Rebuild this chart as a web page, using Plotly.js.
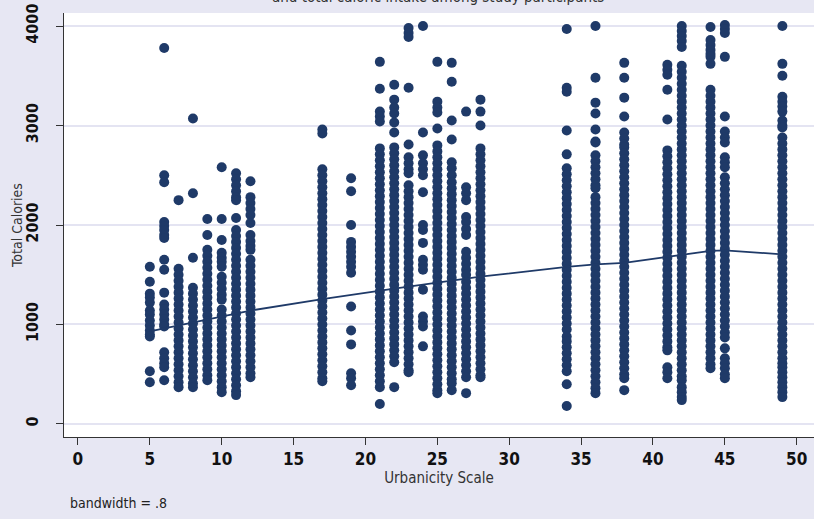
<!DOCTYPE html>
<html>
<head>
<meta charset="utf-8">
<script src="https://cdn.plot.ly/plotly-3.0.1.min.js"></script>
<style>html,body{margin:0;padding:0;background:#e7e7f3;}#chart{width:814px;height:519px;}</style>
</head>
<body>
<div id="chart"></div>
<script>
// Urbanicity scale values (x categories)
var urbanX = [5,6,7,8,9,10,11,12,17,19,21,22,23,24,25,26,27,28,34,36,38,41,42,44,45,49];

// Total calories observed at each urbanicity value
var cal5  = [1580,1430,1310,1270,1220,1140,1100,1040,990,940,900,880,530,420];
var cal6  = [3780,2500,2430,2030,1990,1950,1900,1870,1650,1550,1320,1200,1150,1100,1050,1000,980,720,660,610,570,440];
var cal7  = [2250,1560,1500,1440,1380,1320,1260,1200,1140,1080,1020,960,900,840,780,720,660,600,540,480,420,370];
var cal8  = [3070,2320,1670,1370,1310,1250,1190,1130,1070,1010,950,890,830,770,710,650,590,530,470,410,370];
var cal9  = [2060,1900,1750,1690,1630,1570,1510,1450,1390,1330,1270,1210,1150,1090,1030,970,910,850,790,730,670,610,550,490,440];
var cal10 = [2580,2060,1850,1720,1670,1630,1580,1480,1420,1360,1300,1250,1150,1090,1030,970,910,850,790,730,670,610,550,490,430,370,320];
var cal11 = [2520,2460,2400,2340,2280,2250,2070,1950,1890,1830,1770,1710,1650,1590,1530,1470,1410,1350,1290,1230,1170,1110,1050,990,930,870,810,750,690,630,570,510,450,390,330,290];
var cal12 = [2440,2280,2220,2160,2100,2020,1900,1840,1790,1750,1650,1590,1530,1470,1410,1350,1290,1230,1170,1110,1050,990,930,870,810,750,690,630,570,510,470];
var cal17 = [2960,2920,2560,2500,2440,2380,2320,2260,2200,2140,2080,2020,1960,1900,1840,1780,1720,1660,1600,1540,1480,1420,1360,1300,1240,1180,1120,1060,1000,940,880,820,760,700,640,580,520,460,430];
var cal19 = [2470,2340,2000,1830,1780,1730,1680,1630,1580,1520,1180,940,800,510,460,390];
var cal21 = [3640,3370,3140,3090,3040,2770,2710,2650,2590,2530,2470,2410,2350,2290,2230,2170,2110,2050,1990,1930,1870,1810,1750,1690,1630,1570,1510,1450,1390,1330,1270,1210,1150,1090,1030,970,910,850,790,730,670,610,550,490,430,370,200];
var cal22 = [3410,3260,3180,3120,3030,2930,2780,2720,2660,2600,2540,2480,2420,2360,2300,2240,2180,2120,2060,2000,1940,1880,1820,1760,1700,1640,1580,1520,1460,1400,1340,1280,1220,1160,1100,1040,980,920,860,800,740,680,620,370];
var cal23 = [3980,3930,3890,3380,2810,2680,2620,2560,2520,2400,2340,2280,2220,2160,2100,2040,1980,1920,1860,1800,1740,1680,1620,1560,1500,1440,1380,1320,1260,1200,1140,1080,1020,960,900,840,780,720,660,600,540,520];
var cal24 = [4000,2930,2700,2620,2560,2500,2330,2000,1950,1820,1650,1600,1550,1350,1080,1030,980,780];
var cal25 = [3640,3240,3180,3130,2970,2800,2740,2680,2620,2560,2500,2440,2380,2320,2260,2200,2140,2080,2020,1960,1900,1840,1780,1720,1660,1600,1540,1480,1420,1360,1300,1240,1180,1120,1060,1000,940,880,820,760,700,640,580,520,460,400,340,310];
var cal26 = [3630,3440,3050,2860,2630,2570,2500,2430,2370,2310,2250,2190,2130,2070,2010,1950,1890,1830,1770,1710,1650,1590,1530,1470,1410,1350,1290,1230,1170,1110,1050,990,930,870,810,750,690,630,570,510,450,410,340];
var cal27 = [3140,2380,2320,2250,2080,2030,1960,1900,1730,1670,1610,1550,1500,1430,1370,1310,1250,1190,1130,1070,1010,950,890,830,770,710,650,590,530,470,310];
var cal28 = [3260,3140,3000,2770,2710,2650,2590,2530,2470,2410,2350,2290,2230,2170,2110,2050,1990,1930,1870,1810,1750,1690,1630,1570,1510,1450,1390,1330,1270,1210,1150,1090,1030,970,910,850,790,730,670,610,550,490,470];
var cal34 = [3970,3380,3340,2950,2710,2570,2510,2450,2390,2330,2270,2210,2150,2090,2030,1970,1910,1850,1790,1730,1670,1610,1550,1490,1430,1370,1310,1250,1190,1130,1070,1010,950,880,830,770,710,650,590,530,400,180];
var cal36 = [4000,3480,3230,3120,2960,2840,2830,2700,2640,2580,2520,2460,2400,2370,2280,2220,2160,2100,2040,1980,1920,1860,1800,1740,1680,1620,1560,1500,1440,1380,1320,1260,1200,1140,1080,1020,960,900,840,780,720,660,600,540,480,420,360,310];
var cal38 = [3630,3480,3280,3090,2930,2870,2810,2780,2720,2660,2600,2540,2480,2420,2360,2300,2240,2180,2120,2060,2000,1940,1880,1820,1760,1700,1640,1580,1520,1460,1400,1340,1280,1220,1160,1100,1040,980,920,860,800,740,680,620,560,500,460,340];
var cal41 = [3610,3560,3510,3360,3060,2750,2690,2630,2570,2510,2450,2390,2330,2270,2210,2150,2090,2030,1970,1910,1850,1790,1730,1670,1610,1550,1490,1430,1370,1310,1250,1190,1130,1070,1010,950,890,830,770,740,570,520,460];
var cal42 = [4000,3950,3900,3850,3790,3600,3540,3480,3420,3360,3300,3240,3180,3120,3060,3000,2940,2880,2820,2760,2700,2640,2580,2520,2460,2400,2340,2280,2220,2160,2100,2040,1980,1920,1860,1800,1740,1680,1620,1560,1500,1440,1380,1320,1260,1200,1140,1080,1020,960,900,840,780,720,660,600,540,480,440,370,320,270,240];
var cal44 = [3990,3860,3810,3760,3720,3690,3620,3360,3300,3240,3180,3120,3060,3000,2940,2880,2820,2760,2700,2640,2580,2520,2460,2400,2340,2280,2220,2160,2100,2040,1980,1920,1860,1800,1740,1680,1620,1560,1500,1440,1380,1320,1260,1200,1140,1080,1020,960,900,840,780,720,660,600,560];
var cal45 = [4010,3970,3930,3690,3090,2940,2880,2830,2680,2630,2580,2480,2420,2360,2300,2240,2180,2120,2060,2000,1940,1880,1820,1760,1700,1640,1580,1520,1460,1400,1340,1280,1220,1160,1100,1040,980,920,870,760,660,610,560,500,460];
var cal49 = [4000,3620,3500,3290,3240,3190,3140,3050,3000,2980,2880,2820,2760,2700,2640,2580,2520,2460,2400,2340,2280,2220,2160,2100,2040,1980,1920,1860,1800,1740,1680,1620,1560,1500,1440,1380,1320,1260,1200,1140,1080,1020,960,900,840,780,720,660,610,570,520,470,420,370,320,270];

var calByX = [cal5,cal6,cal7,cal8,cal9,cal10,cal11,cal12,cal17,cal19,cal21,cal22,cal23,cal24,cal25,cal26,cal27,cal28,cal34,cal36,cal38,cal41,cal42,cal44,cal45,cal49];

// Lowess smoother (bandwidth .8) evaluated at each urbanicity value
var lowessY = [930,960,990,1020,1050,1080,1110,1140,1256,1300,1340,1360,1380,1400,1420,1440,1460,1480,1578,1605,1620,1680,1705,1740,1745,1705];

// Tick labels
var xTicks = [0,5,10,15,20,25,30,35,40,45,50];
var yTicks = [0,1000,2000,3000,4000];

var ptsX = [], ptsY = [];
urbanX.forEach(function(u, i){
  calByX[i].forEach(function(c){ ptsX.push(u); ptsY.push(c); });
});

var navy = '#1f3a68';
var narrow = '"Liberation Sans Narrow", "Arial Narrow", "DejaVu Sans Condensed", sans-serif';

var traces = [
  {type:'scatter', mode:'markers', x:ptsX, y:ptsY,
   marker:{size:10, color:navy, line:{width:0}}, hoverinfo:'skip', showlegend:false},
  {type:'scatter', mode:'lines', x:urbanX, y:lowessY,
   line:{color:navy, width:1.8}, hoverinfo:'skip', showlegend:false}
];

var layout = {
  width:814, height:519,
  margin:{l:64, r:0, t:13, b:82, pad:0},
  paper_bgcolor:'#e7e7f3', plot_bgcolor:'#ffffff',
  showlegend:false,
  xaxis:{
    range:[-0.97, 51.2], tickvals:xTicks, ticktext:xTicks.map(String),
    showgrid:false, zeroline:false, showline:true, linecolor:'#333', linewidth:1,
    ticks:'outside', ticklen:7, tickcolor:'#333', tickwidth:1,
    tickfont:{family:narrow, size:17, color:'#111', weight:'bold'},
    title:{text:'Urbanicity Scale', font:{family:narrow, size:15, color:'#333'}, standoff:4}
  },
  yaxis:{
    range:[-131, 4131], tickvals:yTicks, ticktext:yTicks.map(String),
    showgrid:true, gridcolor:'#e4e4f2', gridwidth:2, zeroline:false,
    showline:true, linecolor:'#333', linewidth:1,
    ticks:'outside', ticklen:7, tickcolor:'#333', tickwidth:1, tickangle:-90,
    ticklabelstandoff:12,
    tickfont:{family:narrow, size:16, color:'#111', weight:'bold'}
  },
  annotations:[
    {text:'and total caloric intake among study participants', xref:'paper', yref:'paper',
     x:0.499, y:1.0118, xanchor:'center', yanchor:'bottom', showarrow:false,
     font:{family:narrow, size:15, color:'#333'}},
    {text:'Total Calories', xref:'paper', yref:'paper', x:-0.0627, y:0.5,
     xanchor:'center', yanchor:'middle', textangle:-90, showarrow:false,
     font:{family:narrow, size:14, color:'#333'}},
    {text:'bandwidth = .8', xref:'paper', yref:'paper', x:0.0053, y:-0.1557,
     xanchor:'left', yanchor:'middle', showarrow:false,
     font:{family:narrow, size:14, color:'#222'}}
  ]
};

Plotly.newPlot('chart', traces, layout, {displayModeBar:false, staticPlot:true});
</script>
</body>
</html>
